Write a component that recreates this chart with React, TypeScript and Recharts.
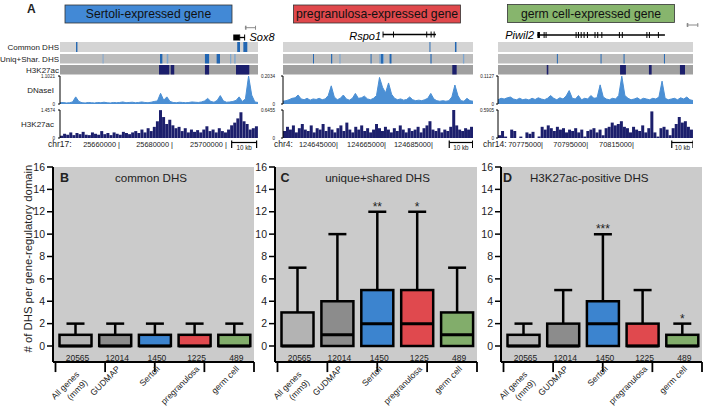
import React from 'react';
import {
  ComposedChart,
  AreaChart,
  BarChart,
  Area,
  Bar,
  Scatter,
  XAxis,
  YAxis,
  CartesianGrid,
  ReferenceArea,
  ReferenceLine,
} from 'recharts';

const FONT = '"Liberation Sans", Arial, Helvetica, sans-serif';

// ================= Panel A : genome browser (positions in % of browser window) =================
const panelTitles = ['Sertoli-expressed gene', 'pregranulosa-expressed gene', 'germ cell-expressed gene'];
const geneSymbols = ['Sox8', 'Rspo1', 'Piwil2'];
const chromosomeNames = ['chr17:', 'chr4:', 'chr14:'];
const signalMaxDnase = [1.1021, 0.2034, 0.1127];
const signalMaxH3k = [1.4574, 0.6455, 0.5905];

const sox8CoordTicks = [30.3, 57.1, 84.3];
const sox8CoordLabels = ['25660000 |', '25680000 |', '25700000 |'];
const sox8ScaleBar = [86.7, 99.3];
const sox8Intron = [90.6, 93.4];
const sox8Exons = [[87.5, 90.6], [90.5, 91.0], [93.0, 93.5]];
const sox8Neighbor = [93.4, 99.0];
const sox8CommonDhs = [[8.1, 8.8, 1], [89.5, 90.9, 1], [92.6, 94.6, 1]];
const sox8UniqueDhs = [[21.5, 22.0, 0], [50.5, 51.7, 1], [53.9, 54.7, 0], [73.2, 75.3, 1], [79.1, 80.8, 1], [85.9, 86.5, 0], [88.0, 88.7, 0]];
const sox8H3kRegions = [[50.0, 55.2], [55.9, 57.7], [73.2, 75.3], [88.9, 95.6]];
const sox8Dnase = [0.05, 0.06, 0.04, 0.05, 0.08, 0.28, 0.1, 0.05, 0.04, 0.06, 0.05, 0.04, 0.06, 0.05, 0.07, 0.05, 0.04, 0.06, 0.05, 0.06, 0.08, 0.05, 0.06, 0.07, 0.05, 0.06, 0.08, 0.06, 0.05, 0.07, 0.1, 0.12, 0.42, 0.15, 0.28, 0.1, 0.06, 0.05, 0.07, 0.06, 0.05, 0.06, 0.08, 0.07, 0.06, 0.08, 0.12, 0.22, 0.1, 0.07, 0.14, 0.33, 0.12, 0.07, 0.08, 0.1, 0.14, 0.28, 0.1, 0.2, 1.1, 0.35, 0.08, 0.06];
const sox8H3k = [0.12, 0.22, 0.17, 0.29, 0.15, 0.26, 0.2, 0.32, 0.17, 0.15, 0.29, 0.22, 0.17, 0.36, 0.2, 0.26, 0.15, 0.29, 0.22, 0.17, 0.32, 0.26, 0.2, 0.29, 0.36, 0.26, 0.44, 0.29, 0.51, 0.36, 0.58, 0.87, 1.45, 1.09, 0.73, 0.95, 0.66, 0.51, 0.58, 0.36, 0.51, 0.29, 0.44, 0.32, 0.41, 0.29, 0.44, 0.61, 0.36, 0.44, 0.29, 0.51, 0.36, 0.29, 0.44, 0.66, 0.8, 1.02, 1.34, 0.87, 0.73, 0.44, 0.51, 0.61];

const rspo1CoordTicks = [28.9, 54.2, 78.9];
const rspo1CoordLabels = ['124645000|', '124665000|', '124685000|'];
const rspo1ScaleBar = [87.5, 99.8];
const rspo1Intron = [52.6, 80.5];
const rspo1Exons = [[52.4, 52.9], [57.9, 58.4], [75.4, 75.9], [77.7, 78.2], [79.3, 79.8]];
const rspo1CommonDhs = [[77.1, 77.6, 1], [90.5, 91.3, 1]];
const rspo1UniqueDhs = [[15.8, 16.3, 1], [25.3, 25.9, 1], [29.7, 30.3, 0], [46.1, 46.6, 1], [50.7, 53.2, 0], [51.6, 52.6, 1], [56.1, 57.1, 1], [77.6, 78.2, 1], [94.7, 95.4, 0]];
const rspo1H3kRegions = [[89.1, 91.4]];
const rspo1Dnase = [0.020, 0.024, 0.031, 0.041, 0.045, 0.065, 0.037, 0.031, 0.041, 0.028, 0.037, 0.033, 0.041, 0.031, 0.037, 0.061, 0.132, 0.051, 0.031, 0.041, 0.065, 0.037, 0.028, 0.041, 0.077, 0.041, 0.045, 0.057, 0.037, 0.031, 0.041, 0.061, 0.193, 0.122, 0.081, 0.153, 0.071, 0.041, 0.031, 0.037, 0.028, 0.033, 0.051, 0.031, 0.024, 0.028, 0.024, 0.031, 0.041, 0.077, 0.037, 0.024, 0.020, 0.024, 0.020, 0.024, 0.051, 0.138, 0.061, 0.024, 0.020, 0.041, 0.024, 0.020];
const rspo1H3k = [0.161, 0.258, 0.194, 0.290, 0.129, 0.226, 0.323, 0.194, 0.161, 0.290, 0.129, 0.226, 0.194, 0.323, 0.161, 0.258, 0.194, 0.129, 0.226, 0.290, 0.161, 0.355, 0.194, 0.129, 0.258, 0.194, 0.290, 0.161, 0.226, 0.129, 0.194, 0.323, 0.226, 0.161, 0.258, 0.194, 0.129, 0.226, 0.161, 0.290, 0.194, 0.129, 0.226, 0.161, 0.194, 0.258, 0.129, 0.226, 0.290, 0.387, 0.194, 0.161, 0.226, 0.129, 0.194, 0.161, 0.258, 0.645, 0.290, 0.194, 0.161, 0.226, 0.194, 0.258];

const piwil2CoordTicks = [23.1, 46.2, 69.7];
const piwil2CoordLabels = ['70775000|', '70795000|', '70815000|'];
const piwil2ScaleBar = [89.1, 100];
const piwil2Intron = [20.2, 85.6];
const piwil2Exons = [[20.2, 21.5], [23.4, 23.9], [24.4, 24.9], [39.8, 40.3], [41.0, 41.5], [42.4, 42.9], [43.9, 44.4], [45.6, 46.1], [49.5, 50.0], [50.9, 51.4], [53.0, 53.5], [62.0, 62.5], [63.5, 64.0], [76.1, 76.6], [77.4, 77.9], [82.0, 82.5]];
const piwil2Neighbor = [96.8, 102.7];
const piwil2CommonDhs: number[][] = [];
const piwil2UniqueDhs = [[30.2, 30.7, 1], [52.6, 53.1, 1], [64.4, 64.9, 1], [85.1, 85.6, 1]];
const piwil2H3kRegions = [[25.0, 25.8], [62.6, 65.6], [77.4, 78.8], [93.3, 95.9]];
const piwil2Dnase = [0.017, 0.023, 0.020, 0.025, 0.028, 0.020, 0.017, 0.023, 0.017, 0.020, 0.016, 0.023, 0.018, 0.025, 0.020, 0.017, 0.023, 0.034, 0.023, 0.017, 0.025, 0.020, 0.032, 0.054, 0.023, 0.020, 0.034, 0.017, 0.023, 0.020, 0.034, 0.023, 0.025, 0.077, 0.028, 0.020, 0.017, 0.023, 0.020, 0.034, 0.112, 0.034, 0.023, 0.017, 0.020, 0.025, 0.017, 0.023, 0.020, 0.017, 0.023, 0.020, 0.028, 0.092, 0.023, 0.017, 0.020, 0.023, 0.017, 0.025, 0.020, 0.028, 0.017, 0.014];
const piwil2H3k = [0.059, 0.148, 0.030, 0, 0.177, 0.148, 0, 0.030, 0, 0.118, 0.089, 0.130, 0, 0.030, 0.236, 0.177, 0.266, 0.207, 0.148, 0.236, 0.177, 0.207, 0.118, 0.177, 0.148, 0.207, 0.118, 0.177, 0.030, 0.148, 0.177, 0.207, 0.118, 0.177, 0.059, 0.207, 0.236, 0.325, 0.266, 0.295, 0.354, 0.236, 0.207, 0.118, 0.236, 0.177, 0.148, 0.266, 0.118, 0.207, 0.561, 0.118, 0.030, 0.207, 0.236, 0.177, 0.059, 0.207, 0.295, 0.443, 0.325, 0.354, 0.236, 0.177];

// ================= Panels B-D : box plots =================
const categories = ['All genes (mm9)', 'GUDMAP', 'Sertoli', 'pregranulosa', 'germ cell'];
const geneCounts = [20565, 12014, 1450, 1225, 489];
const lowerQuartile = [0, 0, 0, 0, 0];
const commonMedian = [0, 0, 0, 0, 0];
const commonUpperQuartile = [1, 1, 1, 1, 1];
const commonWhiskerMax = [2, 2, 2, 2, 2];
const commonStars = ['', '', '', '', ''];
const uniqueMedian = [0, 1, 2, 2, 1];
const uniqueUpperQuartile = [3, 4, 5, 5, 3];
const uniqueWhiskerMax = [7, 10, 12, 12, 7];
const uniqueStars = ['', '', '**', '*', ''];
const h3kMedian = [0, 0, 2, 0, 0];
const h3kUpperQuartile = [1, 2, 4, 2, 1];
const h3kWhiskerMax = [2, 5, 10, 5, 2];
const h3kStars = ['', '', '***', '', '*'];
const yTicks = [0, 2, 4, 6, 8, 10, 12, 14, 16];
const Y_MIN = -1.43;
const categoryBounds = [0, 1, 2, 3, 4, 5];

// ---- styles ----
const boxFill = ['#b3b3b3', '#8c8c8c', '#3c84cf', '#e0494e', '#82ad6b'];
const headerFill = ['#4289d6', '#e0484c', '#87b56d'];
const STRONG = '#2266b2';
const WEAK = '#7ea6cf';
const NAVY = '#1c1f6c';
const DNASE = '#4b8fd4';

function buildRows(median: number[], q3: number[], max: number[], stars: string[]) {
  return categories.map((c, i) => ({
    category: c,
    range: [lowerQuartile[i], q3[i]],
    q1: lowerQuartile[i],
    med: median[i],
    q3: q3[i],
    max: max[i],
    count: geneCounts[i],
    star: stars[i],
    color: boxFill[i],
  }));
}

const BoxShape = (props: any) => {
  const { x, y, width, height, payload } = props;
  const { q1, q3, med, max, count, star, color } = payload;
  const ppu = height / (q3 - q1);
  const y0 = y + height;
  const yOf = (v: number) => y0 - (v - q1) * ppu;
  const cx = x + width / 2;
  const yMax = yOf(max);
  return (
    <g>
      <line x1={cx} x2={cx} y1={yMax} y2={y} stroke="#000" strokeWidth={2.5} />
      <line x1={cx - 9} x2={cx + 9} y1={yMax} y2={yMax} stroke="#000" strokeWidth={2.5} />
      <rect x={x} y={y} width={width} height={height} fill={color} stroke="#000" strokeWidth={2.5} />
      <line x1={x} x2={x + width} y1={yOf(med)} y2={yOf(med)} stroke="#000" strokeWidth={3} />
      <text x={cx + 2} y={yOf(0) + 15} textAnchor="middle" fontSize={8.5} fill="#222">{count}</text>
      {star ? (
        <text x={cx} y={yMax - 1} textAnchor="middle" fontSize={12} fill="#222">{star}</text>
      ) : null}
    </g>
  );
};

const CategoryTick = (props: any) => {
  const { x, y, payload } = props;
  const v: string = payload.value;
  if (v.includes('(')) {
    const idx = v.indexOf(' (');
    const l1 = v.slice(0, idx);
    const l2 = v.slice(idx + 1);
    return (
      <g transform={`translate(${x + 4.5},${y + 13}) rotate(-45)`}>
        <text textAnchor="end" fontSize={8.6} fill="#222">
          <tspan x={0} y={0}>{l1}</tspan>
          <tspan x={0} y={11.5}>{l2}</tspan>
        </text>
      </g>
    );
  }
  return (
    <g transform={`translate(${x + 5.5},${y + 7.5}) rotate(-45)`}>
      <text textAnchor="end" fontSize={8.6} fill="#222">{v}</text>
    </g>
  );
};

function BoxPanel({ left, width, mLeft, mRight, rows }: any) {
  return (
    <div style={{ position: 'absolute', left, top: 150 }}>
      <ComposedChart width={width} height={260} data={rows} margin={{ top: 17, right: mRight, bottom: 0, left: mLeft }}>
        <CartesianGrid fill="#cbcbcb" horizontal={false} vertical={false} stroke="none" />
        <XAxis xAxisId="bounds" type="number" domain={[0, 5]} hide padding={{ left: 2.5, right: 0 }} allowDataOverflow />
        <XAxis dataKey="category" type="category" height={48} axisLine={{ stroke: '#000', strokeWidth: 2 }} tickLine={false}
          tickSize={0} tickMargin={0} tick={<CategoryTick />} interval={0} padding={{ left: 2.5, right: 0 }} />
        <XAxis xAxisId="top" orientation="top" type="number" domain={[0, 1]} tick={false} tickLine={false}
          axisLine={{ stroke: '#000', strokeWidth: 2 }} height={0} />
        <YAxis type="number" domain={[Y_MIN, 16]} ticks={yTicks} width={20} interval={0} allowDataOverflow
          axisLine={{ stroke: '#000', strokeWidth: 2 }} tickLine={{ stroke: '#000', strokeWidth: 1.5 }} tickSize={6} tickMargin={2}
          tick={{ fontSize: 10.5, fill: '#222' }} />
        <YAxis yAxisId="right" orientation="right" type="number" domain={[0, 1]} tick={false} tickLine={false}
          axisLine={{ stroke: '#000', strokeWidth: 2 }} width={0} />
        {categoryBounds.map((b) => (
          <ReferenceLine key={'b' + b} xAxisId="bounds" segment={[{ x: b, y: Y_MIN }, { x: b, y: Y_MIN - 0.9 }]}
            stroke="#000" strokeWidth={1.8} ifOverflow="visible" />
        ))}
        <Bar dataKey="range" barSize={32} shape={BoxShape} isAnimationActive={false} />
      </ComposedChart>
    </div>
  );
}

function RowsTrack({ left, width, rightPad, geneY, intron, exons, neighbor, neighborY, common, unique, h3k }: any) {
  const rowArea = (y1: number, y2: number, fill: string, key: string) => (
    <ReferenceArea key={key} x1={0} x2={100} y1={y1} y2={y2} fill={fill} fillOpacity={1} stroke="none" ifOverflow="visible" />
  );
  return (
    <div style={{ position: 'absolute', left, top: 22 }}>
      <ComposedChart width={width + rightPad} height={53} margin={{ top: 0, right: rightPad, bottom: 0, left: 0 }} data={[]}>
        <XAxis type="number" dataKey="x" domain={[0, 100]} hide allowDataOverflow />
        <YAxis type="number" domain={[0, 53]} reversed hide allowDataOverflow />
        {rowArea(20, 30, '#d4d4d4', 'r1')}
        {rowArea(32, 41.5, '#bdbdbd', 'r2')}
        {rowArea(43, 52.5, '#a0a0a0', 'r3')}
        {common.map((m: number[], i: number) => (
          <ReferenceArea key={'c' + i} x1={m[0]} x2={m[1]} y1={20} y2={30} fill={m[2] ? STRONG : WEAK} fillOpacity={1} stroke="none" ifOverflow="visible" />
        ))}
        {unique.map((m: number[], i: number) => (
          <ReferenceArea key={'u' + i} x1={m[0]} x2={m[1]} y1={32} y2={41.5} fill={m[2] ? STRONG : WEAK} fillOpacity={1} stroke="none" ifOverflow="visible" />
        ))}
        {h3k.map((m: number[], i: number) => (
          <ReferenceArea key={'h' + i} x1={m[0]} x2={m[1]} y1={43} y2={52.5} fill={NAVY} fillOpacity={1} stroke="none" ifOverflow="visible" />
        ))}
        <ReferenceLine segment={[{ x: intron[0], y: geneY }, { x: intron[1], y: geneY }]} stroke="#000" strokeWidth={1.3} ifOverflow="visible" />
        {exons.map((e: number[], i: number) => (
          <ReferenceArea key={'e' + i} x1={e[0]} x2={e[1]} y1={geneY - 3} y2={geneY + 3} fill="#000" fillOpacity={1} stroke="none" ifOverflow="visible" />
        ))}
        {neighbor ? (
          <ReferenceLine segment={[{ x: neighbor[0], y: neighborY }, { x: neighbor[1], y: neighborY }]} stroke="#8a8a8a" strokeWidth={1} ifOverflow="visible" />
        ) : null}
        {neighbor ? (
          <ReferenceArea x1={neighbor[1] - 0.5} x2={neighbor[1]} y1={neighborY - 2} y2={neighborY + 2} fill="#8a8a8a" fillOpacity={1} stroke="none" ifOverflow="visible" />
        ) : null}
        {neighbor ? (
          <ReferenceArea x1={neighbor[0]} x2={neighbor[0] + 0.8} y1={neighborY - 2} y2={neighborY + 2} fill="#8a8a8a" fillOpacity={1} stroke="none" ifOverflow="visible" />
        ) : null}
      </ComposedChart>
    </div>
  );
}

function SignalTrack({ left, top, width, mLeft, values, max, kind, tickMargin }: any) {
  const data = values.map((v: number, i: number) => ({ bin: i, v }));
  const yAxis = (
    <YAxis type="number" domain={[0, max]} ticks={[0, max]} width={10} interval={0} allowDataOverflow
      tickSize={2} tickMargin={tickMargin} tickFormatter={(t: number) => (t === 0 ? '0' : max.toFixed(4))}
      tick={{ fontSize: 4.6, fill: '#222' }} axisLine={{ stroke: '#000', strokeWidth: 1 }} tickLine={{ stroke: '#000' }} />
  );
  const margin = { top: 4, right: 0, bottom: 2, left: mLeft };
  return (
    <div style={{ position: 'absolute', left, top }}>
      {kind === 'area' ? (
        <AreaChart width={width} height={34} data={data} margin={margin}>
          <XAxis dataKey="bin" hide />
          {yAxis}
          <Area dataKey="v" type="linear" stroke={DNASE} strokeWidth={1} fill={DNASE} fillOpacity={1} dot={false} isAnimationActive={false} />
        </AreaChart>
      ) : (
        <BarChart width={width} height={34} data={data} margin={margin} barCategoryGap={0} barGap={0}>
          <XAxis dataKey="bin" hide />
          {yAxis}
          <Bar dataKey="v" fill={NAVY} isAnimationActive={false} />
        </BarChart>
      )}
    </div>
  );
}

const TextMark = (fontSize: number, anchor: string) => (p: any) => (
  <text x={p.cx} y={p.cy} textAnchor={anchor} fontSize={fontSize} fill="#222">{p.payload.label}</text>
);

function CoordRow({ left, width, ticks, labels, scaleBar }: any) {
  const coordData = ticks.map((t: number, i: number) => ({ x: t, y: 11, label: labels[i] }));
  const kbData = [{ x: (scaleBar[0] + scaleBar[1]) / 2, y: 13.8, label: '10 kb' }];
  return (
    <div style={{ position: 'absolute', left, top: 136 }}>
      <ComposedChart width={width} height={16} margin={{ top: 0, right: 0, bottom: 0, left: 0 }}>
        <XAxis type="number" dataKey="x" domain={[0, 100]} hide allowDataOverflow />
        <YAxis type="number" dataKey="y" domain={[0, 16]} reversed hide allowDataOverflow />
        <Scatter data={coordData} shape={TextMark(7.4, 'end')} isAnimationActive={false} />
        <Scatter data={kbData} shape={TextMark(6.3, 'middle')} isAnimationActive={false} />
        <ReferenceLine segment={[{ x: scaleBar[0], y: 6.5 }, { x: scaleBar[1], y: 6.5 }]} stroke="#000" strokeWidth={1.2} ifOverflow="visible" />
        <ReferenceLine segment={[{ x: scaleBar[0], y: 4.5 }, { x: scaleBar[0], y: 12 }]} stroke="#000" strokeWidth={1.2} ifOverflow="visible" />
        <ReferenceLine segment={[{ x: scaleBar[1], y: 4.5 }, { x: scaleBar[1], y: 12 }]} stroke="#000" strokeWidth={1.2} ifOverflow="visible" />
      </ComposedChart>
    </div>
  );
}

const browserPanels = [
  {
    trackLeft: 60, trackWidth: 198, signalLeft: 30, tickMargin: 3, rightPad: 2, geneY: 15.5, neighborY: 5.7,
    intron: sox8Intron, exons: sox8Exons, neighbor: sox8Neighbor, common: sox8CommonDhs, unique: sox8UniqueDhs, h3k: sox8H3kRegions,
    dnase: sox8Dnase, h3kSignal: sox8H3k, ticks: sox8CoordTicks, labels: sox8CoordLabels, scaleBar: sox8ScaleBar,
  },
  {
    trackLeft: 283, trackWidth: 190, signalLeft: 255, tickMargin: 6, rightPad: 2, geneY: 12.5, neighborY: 0,
    intron: rspo1Intron, exons: rspo1Exons, neighbor: null, common: rspo1CommonDhs, unique: rspo1UniqueDhs, h3k: rspo1H3kRegions,
    dnase: rspo1Dnase, h3kSignal: rspo1H3k, ticks: rspo1CoordTicks, labels: rspo1CoordLabels, scaleBar: rspo1ScaleBar,
  },
  {
    trackLeft: 498, trackWidth: 195, signalLeft: 475, tickMargin: 2, rightPad: 9, geneY: 13, neighborY: 3,
    intron: piwil2Intron, exons: piwil2Exons, neighbor: piwil2Neighbor, common: piwil2CommonDhs, unique: piwil2UniqueDhs, h3k: piwil2H3kRegions,
    dnase: piwil2Dnase, h3kSignal: piwil2H3k, ticks: piwil2CoordTicks, labels: piwil2CoordLabels, scaleBar: piwil2ScaleBar,
  },
];

const headerBoxes = [
  { x: 65, y: 5, w: 167, h: 18 },
  { x: 293.5, y: 5, w: 167, h: 18 },
  { x: 507.5, y: 4.5, w: 167, h: 18 },
];
const geneLabelPos = [
  { x: 249.5, y: 40.5, anchor: 'start' },
  { x: 381, y: 39.5, anchor: 'end' },
  { x: 534, y: 39, anchor: 'end' },
];
const chrLabelX = [48, 274, 483];

function Overlay() {
  const t = { fontFamily: FONT, fill: '#222' } as any;
  return (
    <svg width={705} height={410} style={{ position: 'absolute', left: 0, top: 0, pointerEvents: 'none' }}>
      <text x={27} y={12.5} fontSize={12} fontWeight="bold" {...t}>A</text>
      {headerBoxes.map((b, i) => (
        <g key={'hb' + i}>
          <rect x={b.x} y={b.y} width={b.w} height={b.h} fill={headerFill[i]} stroke="#333" strokeWidth={0.8} />
          <text x={b.x + b.w / 2} y={b.y + b.h / 2 + 4.3} textAnchor="middle" fontSize={12.2} {...t} fill="#111">{panelTitles[i]}</text>
        </g>
      ))}
      {geneLabelPos.map((g, i) => (
        <text key={'gn' + i} x={g.x} y={g.y} textAnchor={g.anchor} fontSize={11} fontStyle="italic" {...t} fill="#000">{geneSymbols[i]}</text>
      ))}
      <text x={59} y={50} textAnchor="end" fontSize={8} {...t}>Common DHS</text>
      <text x={59} y={61.7} textAnchor="end" fontSize={8} {...t}>Uniq+Shar. DHS</text>
      <text x={59} y={72.7} textAnchor="end" fontSize={8} {...t}>H3K27ac</text>
      <text x={54} y={93} textAnchor="end" fontSize={8} {...t}>DNaseI</text>
      <text x={54} y={127} textAnchor="end" fontSize={8} {...t}>H3K27ac</text>
      {chromosomeNames.map((c, i) => (
        <text key={'chr' + i} x={chrLabelX[i]} y={147.3} fontSize={8.5} {...t}>{c}</text>
      ))}
      <text transform="translate(32,258.5) rotate(-90)" textAnchor="middle" fontSize={11.3} {...t}># of DHS per gene-regulatory domain</text>
      <text x={60} y={181.5} fontSize={12.5} fontWeight="bold" {...t}>B</text>
      <text x={151} y={181.5} textAnchor="middle" fontSize={11.6} {...t}>common DHS</text>
      <text x={280.5} y={181.5} fontSize={12.5} fontWeight="bold" {...t}>C</text>
      <text x={377.5} y={181.5} textAnchor="middle" fontSize={11.6} {...t}>unique+shared DHS</text>
      <text x={503} y={181.5} fontSize={12.5} fontWeight="bold" {...t}>D</text>
      <text x={530} y={181.5} fontSize={11.6} {...t}>H3K27ac-positive DHS</text>
    </svg>
  );
}

export default function App() {
  return (
    <div style={{ position: 'absolute', left: 0, top: 0, width: 705, height: 410, background: '#fff', fontFamily: FONT, overflow: 'hidden' }}>
      {browserPanels.map((p, i) => (
        <React.Fragment key={'bp' + i}>
          <RowsTrack left={p.trackLeft} width={p.trackWidth} rightPad={p.rightPad} geneY={p.geneY} intron={p.intron} exons={p.exons}
            neighbor={p.neighbor} neighborY={p.neighborY} common={p.common} unique={p.unique} h3k={p.h3k} />
          <SignalTrack left={p.signalLeft} top={72} width={p.trackLeft + p.trackWidth - p.signalLeft} mLeft={p.trackLeft - p.signalLeft - 10}
            values={p.dnase} max={signalMaxDnase[i]} kind="area" tickMargin={p.tickMargin} />
          <SignalTrack left={p.signalLeft} top={106} width={p.trackLeft + p.trackWidth - p.signalLeft} mLeft={p.trackLeft - p.signalLeft - 10}
            values={p.h3kSignal} max={signalMaxH3k[i]} kind="bar" tickMargin={p.tickMargin} />
          <CoordRow left={p.trackLeft} width={p.trackWidth} ticks={p.ticks} labels={p.labels} scaleBar={p.scaleBar} />
        </React.Fragment>
      ))}
      <BoxPanel left={0} width={260} mLeft={33} mRight={6} rows={buildRows(commonMedian, commonUpperQuartile, commonWhiskerMax, commonStars)} />
      <BoxPanel left={250} width={230} mLeft={5} mRight={3} rows={buildRows(uniqueMedian, uniqueUpperQuartile, uniqueWhiskerMax, uniqueStars)} />
      <BoxPanel left={478} width={227} mLeft={3} mRight={3} rows={buildRows(h3kMedian, h3kUpperQuartile, h3kWhiskerMax, h3kStars)} />
      <Overlay />
    </div>
  );
}
